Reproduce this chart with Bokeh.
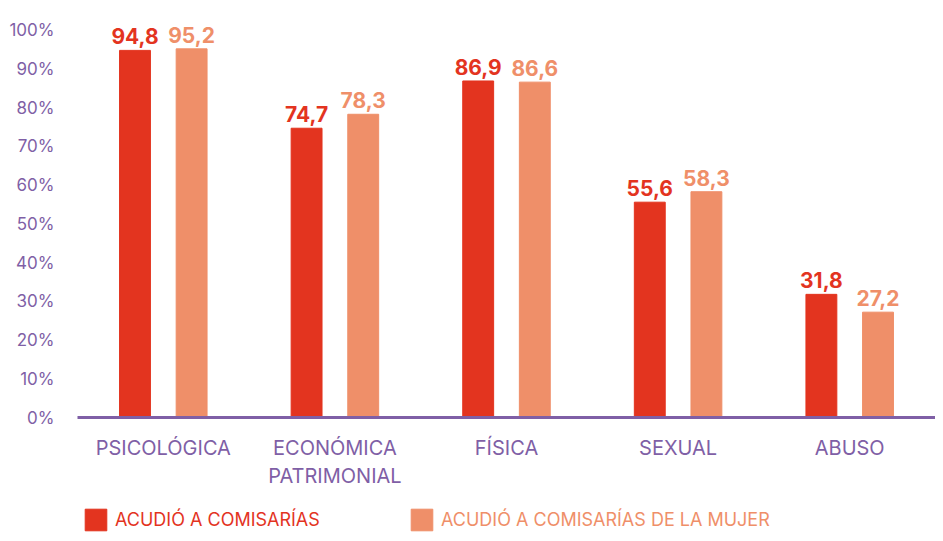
from bokeh.plotting import figure
from bokeh.models import ColumnDataSource, FactorRange, Range1d, Legend, LegendItem, FixedTicker, CustomJSTickFormatter
from bokeh.layouts import column
from bokeh.transform import dodge
from bokeh.core.properties import value
from bokeh.embed import file_html
from bokeh.resources import INLINE

categories = ["PSICOLÓGICA", "ECONÓMICA\nPATRIMONIAL", "FÍSICA", "SEXUAL", "ABUSO"]
comisarias = [94.8, 74.7, 86.9, 55.6, 31.8]
comisarias_mujer = [95.2, 78.3, 86.6, 58.3, 27.2]
series_names = ["ACUDIÓ A COMISARÍAS", "ACUDIÓ A COMISARÍAS DE LA MUJER"]
y_ticks = [0, 10, 20, 30, 40, 50, 60, 70, 80, 90, 100]

RED = "#E3341F"
SALMON = "#EF8F69"
PURPLE = "#7F5FA6"
FONT = "Inter"

src = ColumnDataSource(dict(
    cat=categories,
    a=comisarias,
    b=comisarias_mujer,
    la=[f"{v:.1f}".replace(".", ",") for v in comisarias],
    lb=[f"{v:.1f}".replace(".", ",") for v in comisarias_mujer],
))

W = 935
FL = 77
p = figure(
    x_range=FactorRange(*categories, range_padding=0),
    y_range=Range1d(0, 102),
    width=W, height=500,
    output_backend="svg", toolbar_location=None,
    min_border_left=FL, min_border_right=0, min_border_top=22, min_border_bottom=83,
)
p.outline_line_color = None
p.grid.visible = False

off = 0.165
w = 0.18
ra = p.vbar(x=dodge("cat", -off, range=p.x_range), top="a", width=w, source=src, color=RED)
rb = p.vbar(x=dodge("cat", off, range=p.x_range), top="b", width=w, source=src, color=SALMON)

p.text(x=dodge("cat", -off, range=p.x_range), y="a", text="la", source=src,
       text_align="center", text_baseline="alphabetic", y_offset=-14,
       text_font=value(FONT), text_font_style="bold", text_font_size="21px", text_color=RED)
p.text(x=dodge("cat", off, range=p.x_range), y="b", text="lb", source=src,
       text_align="center", text_baseline="alphabetic", y_offset=-14,
       text_font=value(FONT), text_font_style="bold", text_font_size="21px", text_color=SALMON)

# y axis
p.yaxis.ticker = FixedTicker(ticks=y_ticks)
p.yaxis.formatter = CustomJSTickFormatter(code="return tick + '%';")
p.yaxis.axis_line_color = None
p.yaxis.major_tick_line_color = None
p.yaxis.minor_tick_line_color = None
p.yaxis.major_label_standoff = 17
p.yaxis.major_label_text_font = FONT
p.yaxis.major_label_text_font_size = "17px"
p.yaxis.major_label_text_color = PURPLE

# x axis
p.xaxis.axis_line_color = PURPLE
p.xaxis.axis_line_width = 3
p.xaxis.major_tick_line_color = None
p.xaxis.minor_tick_line_color = None
p.xaxis.major_label_standoff = 12
p.xaxis.major_label_text_font = FONT
p.xaxis.major_label_text_font_size = "20px"
p.xaxis.major_label_text_color = PURPLE
p.xaxis.major_label_orientation = "horizontal"

# legend strip
lg = figure(width=W, height=33, x_range=Range1d(0, 1), y_range=Range1d(0, 1),
            output_backend="svg", toolbar_location=None,
            min_border_left=0, min_border_right=0, min_border_top=0, min_border_bottom=0)
lg.axis.visible = False
lg.grid.visible = False
lg.outline_line_color = None
dummy = ColumnDataSource(dict(x=[-5], top=[-5]))
ga = lg.vbar(x="x", top="top", width=0.1, source=dummy, color=RED)
gb = lg.vbar(x="x", top="top", width=0.1, source=dummy, color=SALMON)

def mk_legend(renderer, label, color, loc):
    return Legend(items=[LegendItem(label=label, renderers=[renderer])],
                  location=loc, orientation="horizontal",
                  glyph_width=27, glyph_height=27, label_standoff=6,
                  padding=0, margin=0, spacing=0,
                  border_line_color=None, background_fill_alpha=0,
                  label_text_font=FONT, label_text_font_size="18px",
                  label_text_color=color, label_height=27)

lg.add_layout(mk_legend(ga, series_names[0], RED, (82 - FL, 0)))
lg.add_layout(mk_legend(gb, series_names[1], SALMON, (408 - FL, 0)))

layout = column(p, lg, spacing=0)
open("out.html", "w").write(file_html(layout, INLINE))
